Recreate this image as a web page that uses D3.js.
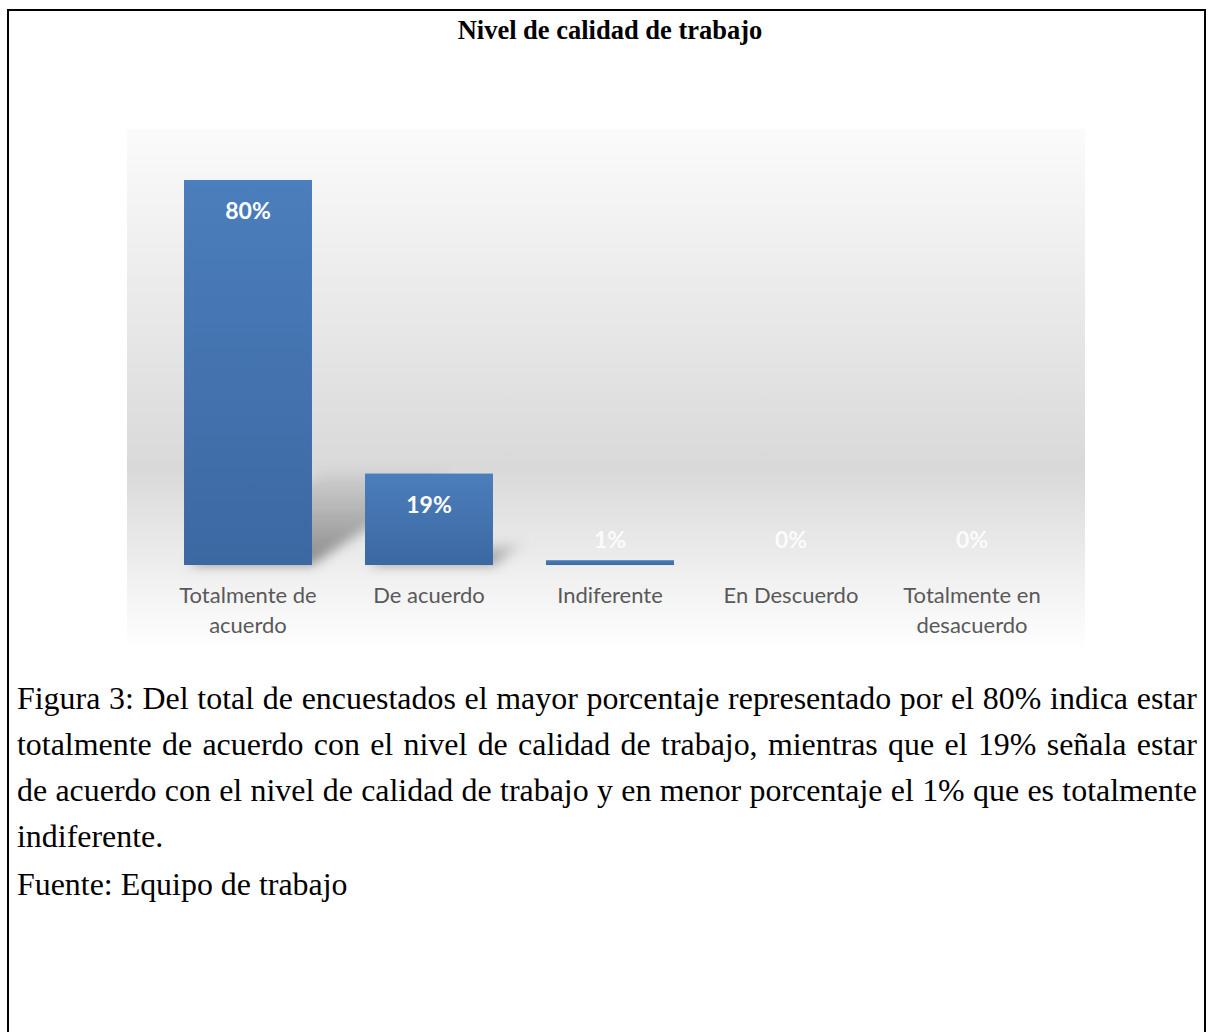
<!DOCTYPE html>
<html>
<head>
<meta charset="utf-8">
<script src="https://cdn.jsdelivr.net/npm/d3@7"></script>
<style>
  html, body { margin: 0; padding: 0; background: #fff; }
</style>
</head>
<body>
<div id="page"></div>
<script>
// ---- data ----
const title      = 'Nivel de calidad de trabajo';
const categories = ['Totalmente de acuerdo', 'De acuerdo', 'Indiferente', 'En Descuerdo', 'Totalmente en desacuerdo'];
const values     = [80, 19, 1, 0, 0];
const captionLines = [
  'Figura 3: Del total de encuestados el mayor porcentaje representado por el 80% indica estar',
  'totalmente de acuerdo con el nivel de calidad de trabajo, mientras que el 19% señala estar',
  'de acuerdo con el nivel de calidad de trabajo y en menor porcentaje el 1% que es totalmente',
  'indiferente.',
  'Fuente: Equipo de trabajo',
];

const W = 1208, H = 1032;
const serif = '"Liberation Serif", "Times New Roman", serif';
const sans  = 'Lato, "Open Sans", sans-serif';

const svg = d3.select('#page').append('svg').attr('width', W).attr('height', H);

// frame of the document table cell
svg.append('path')
  .attr('d', `M8,${H} V10 H1205 V${H}`)
  .attr('fill', 'none')
  .attr('stroke', '#000').attr('stroke-width', 2);

svg.append('text')
  .attr('x', 610).attr('y', 39)
  .attr('text-anchor', 'middle')
  .style('font-family', serif)
  .style('font-weight', 'bold')
  .style('font-size', '26.5px')
  .text(title);

// ---- defs ----
const defs = svg.append('defs');
const bg = defs.append('linearGradient').attr('id', 'bgGrad')
  .attr('x1', 0).attr('y1', 0).attr('x2', 0).attr('y2', 1);
bg.append('stop').attr('offset', '0%').attr('stop-color', '#fbfbfb');
bg.append('stop').attr('offset', '65%').attr('stop-color', '#d9d9d9');
bg.append('stop').attr('offset', '100%').attr('stop-color', '#ffffff');

const barGrad = defs.append('linearGradient').attr('id', 'barGrad')
  .attr('x1', 0).attr('y1', 0).attr('x2', 0).attr('y2', 1);
barGrad.append('stop').attr('offset', '0%').attr('stop-color', '#4b7ebc');
barGrad.append('stop').attr('offset', '100%').attr('stop-color', '#3c68a2');

const shGrad = defs.append('linearGradient').attr('id', 'shGrad')
  .attr('x1', 0).attr('y1', 1).attr('x2', 0).attr('y2', 0);
shGrad.append('stop').attr('offset', '0%').attr('stop-color', '#000').attr('stop-opacity', 0.42);
shGrad.append('stop').attr('offset', '100%').attr('stop-color', '#000').attr('stop-opacity', 0.05);

defs.append('filter').attr('id', 'blur')
  .attr('x', '-50%').attr('y', '-50%').attr('width', '200%').attr('height', '200%')
  .append('feGaussianBlur').attr('stdDeviation', 6);

// plot area background
svg.append('rect')
  .attr('x', 127).attr('y', 129).attr('width', 958).attr('height', 521)
  .attr('fill', 'url(#bgGrad)');

// ---- scales ----
const x = d3.scaleBand()
  .domain(categories)
  .range([157.5, 1062.5])
  .paddingInner(0.293)
  .paddingOuter(0.1465);

const y = d3.scaleLinear().domain([0, 80]).range([565, 180]);
const base = y(0);

const rows = categories.map((c, i) => ({ cat: c, v: values[i] }));

// perspective shadows behind the bars
svg.append('g').attr('class', 'shadows')
  .selectAll('polygon')
  .data(rows.filter(d => d.v > 0))
  .join('polygon')
    .attr('points', d => {
      const x0 = x(d.cat), x1 = x0 + x.bandwidth();
      const hs = (base - y(d.v)) * 0.24;
      const sh = hs * 1.5;
      return [[x0 + 4, base], [x1, base], [x1 + sh, base - hs], [x0 + sh, base - hs]]
        .map(p => p.join(',')).join(' ');
    })
    .attr('fill', 'url(#shGrad)')
    .attr('filter', 'url(#blur)');

// bars
svg.append('g').attr('class', 'bars')
  .selectAll('rect')
  .data(rows)
  .join('rect')
    .attr('x', d => x(d.cat))
    .attr('y', d => y(d.v))
    .attr('width', x.bandwidth())
    .attr('height', d => base - y(d.v))
    .attr('fill', 'url(#barGrad)');

// value labels
svg.append('g').attr('class', 'values')
  .selectAll('text')
  .data(rows)
  .join('text')
    .attr('x', d => x(d.cat) + x.bandwidth() / 2)
    .attr('y', d => Math.min(y(d.v) + 31, base - 25))
    .attr('dy', '0.35em')
    .attr('text-anchor', 'middle')
    .style('font-family', sans)
    .style('font-weight', 'bold')
    .style('font-size', '23px')
    .style('fill', '#fff')
    .style('fill-opacity', d => d.v > 5 ? 1 : 0.85)
    .text(d => d.v + '%');

// category axis (no line, no ticks)
const xAxis = svg.append('g')
  .attr('transform', `translate(0,${base})`)
  .call(d3.axisBottom(x).tickSize(0).tickPadding(0));
xAxis.select('.domain').remove();
xAxis.selectAll('text')
  .style('font-family', sans)
  .style('font-size', '22px')
  .style('fill', '#595959')
  .attr('y', 0)
  .attr('dy', null)
  .each(function(d) {
    // wrap long category names into lines that fit the band
    const t = d3.select(this);
    const words = d.split(' ');
    const maxW = x.step() - 14;
    t.text(null);
    let line = [], lineNo = 0;
    let tspan = t.append('tspan').attr('x', 0).attr('y', 38);
    words.forEach(w => {
      line.push(w);
      tspan.text(line.join(' '));
      if (tspan.node().getComputedTextLength() > maxW && line.length > 1) {
        line.pop();
        tspan.text(line.join(' '));
        line = [w];
        lineNo++;
        tspan = t.append('tspan').attr('x', 0).attr('y', 38 + lineNo * 30).text(w);
      }
    });
  });

// ---- caption, justified between the text margins ----
const capLeft = 17, capWidth = 1180;
const capG = svg.append('g').attr('class', 'caption')
  .style('font-family', serif);

// pick a size at which the longest justified line just fits the column
const probe = capG.append('text').style('font-size', '100px');
const natural = captionLines.slice(0, 3).map(l => probe.text(l).node().getComputedTextLength());
probe.remove();
const capSize = 100 * capWidth / d3.max(natural) * 0.995;

captionLines.forEach((l, i) => {
  const t = capG.append('text')
    .attr('x', capLeft)
    .attr('y', 709 + i * 46 + (i === 4 ? 2 : 0))
    .style('font-size', capSize + 'px')
    .text(l);
  if (i < 3) {
    const gaps = l.split(' ').length - 1;
    const w = t.node().getComputedTextLength();
    t.attr('word-spacing', (capWidth - w) / gaps);
  }
});
</script>
</body>
</html>
